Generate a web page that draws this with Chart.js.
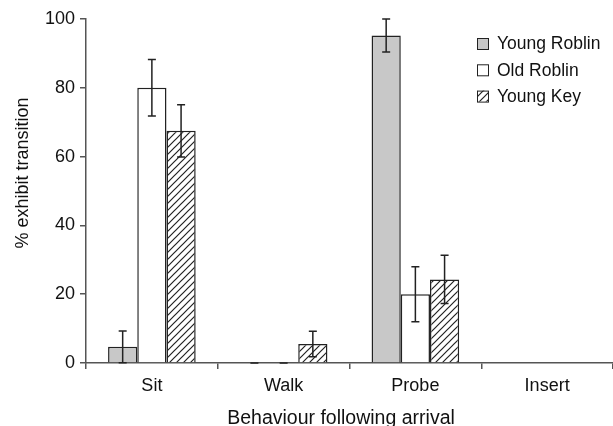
<!DOCTYPE html>
<html>
<head>
<meta charset="utf-8">
<script src="https://cdn.jsdelivr.net/npm/chart.js@4"></script>
<style>
  html, body { margin: 0; padding: 0; background: #fff; }
  #wrap { width: 613px; height: 426px; }
</style>
</head>
<body>
<div id="wrap"><canvas id="myChart" width="613" height="426"></canvas></div>
<script>
'use strict';

// ********** DATA **********

let categories = ['Sit', 'Walk', 'Probe', 'Insert'];
let seriesNames = ['Young Roblin', 'Old Roblin', 'Young Key'];

let youngRoblin = [4.7, 0, 95.2, 0];
let oldRoblin = [80, 0, 20, 0];
let youngKey = [67.5, 5.5, 24.3, 0];

// error (+/-) for each bar, null = no bar drawn
let youngRoblinErr = [4.6, 0, 4.8, null];
let oldRoblinErr = [8.2, 0, 8, null];
let youngKeyErr = [7.6, 3.7, 7, null];

let yTicks = [0, 20, 40, 60, 80, 100];

let xTitle = 'Behaviour following arrival';
let yTitle = '% exhibit transition';

// ********** HELPERS **********

const INK = '#222222';
const FONT = "'Liberation Sans', Arial, sans-serif";

// diagonal hatch for Young Key
function makeHatch() {
  let c = document.createElement('canvas');
  c.width = 7;
  c.height = 7;
  let g = c.getContext('2d');
  g.fillStyle = '#ffffff';
  g.fillRect(0, 0, 7, 7);
  g.strokeStyle = INK;
  g.lineWidth = 1.2;
  g.beginPath();
  g.moveTo(-1, 8); g.lineTo(8, -1);
  g.moveTo(-1, 1); g.lineTo(1, -1);
  g.moveTo(6, 8); g.lineTo(8, 6);
  g.stroke();
  return g.createPattern(c, 'repeat');
}

let hatch = makeHatch();
let fills = ['#c8c8c8', '#ffffff', hatch];
let errs = [youngRoblinErr, oldRoblinErr, youngKeyErr];

// error bars drawn over the bars
const errorBars = {
  id: 'errorBars',
  afterDatasetsDraw(chart) {
    let ctx = chart.ctx;
    let y = chart.scales.y;
    ctx.save();
    ctx.strokeStyle = INK;
    ctx.lineWidth = 1.5;
    chart.data.datasets.forEach((ds, i) => {
      let meta = chart.getDatasetMeta(i);
      meta.data.forEach((bar, j) => {
        let e = errs[i][j];
        if (e === null) return;
        let v = ds.data[j];
        let top = y.getPixelForValue(v + e);
        let bot = y.getPixelForValue(Math.max(0, v - e));
        ctx.beginPath();
        ctx.moveTo(bar.x, top); ctx.lineTo(bar.x, bot);
        ctx.moveTo(bar.x - 4, top); ctx.lineTo(bar.x + 4, top);
        ctx.moveTo(bar.x - 4, bot); ctx.lineTo(bar.x + 4, bot);
        ctx.stroke();
      });
    });
    ctx.restore();
  }
};

// legend in the top right corner + axis titles
const boxLegend = {
  id: 'boxLegend',
  afterDraw(chart) {
    let ctx = chart.ctx;
    ctx.save();
    ctx.font = '17.5px ' + FONT;
    ctx.textBaseline = 'middle';
    seriesNames.forEach((name, i) => {
      let yy = 43.5 + i * 26.3;
      ctx.fillStyle = fills[i];
      ctx.fillRect(477, yy - 5.5, 11, 11);
      ctx.strokeStyle = INK;
      ctx.lineWidth = 1;
      ctx.strokeRect(477.5, yy - 5, 11, 11);
      ctx.fillStyle = '#111';
      ctx.fillText(name, 497, yy + 1);
    });

    ctx.fillStyle = '#111';
    ctx.textAlign = 'center';
    ctx.font = '19.5px ' + FONT;
    ctx.textBaseline = 'alphabetic';
    ctx.fillText(xTitle, 341, 424);

    ctx.translate(28, 173);
    ctx.rotate(-Math.PI / 2);
    ctx.font = '18px ' + FONT;
    ctx.fillText(yTitle, 0, 0);
    ctx.restore();
  }
};

// ********** CHART **********

let chartData = {
  type: 'bar',
  data: {
    labels: categories,
    datasets: [youngRoblin, oldRoblin, youngKey].map((d, i) => ({
      label: seriesNames[i],
      data: d,
      backgroundColor: fills[i],
      borderColor: INK,
      borderWidth: 1.5,
      categoryPercentage: 0.665,
      barPercentage: 1
    }))
  },
  options: {
    responsive: false,
    animation: false,
    layout: { padding: { top: 19, right: 0, left: 0, bottom: 0 } },
    plugins: { legend: { display: false }, tooltip: { enabled: false } },
    scales: {
      x: {
        offset: true,
        afterFit(s) { s.height = 63; },
        grid: { offset: true, drawOnChartArea: false, drawTicks: true, tickLength: 6, color: '#555', lineWidth: 1.5 },
        border: { color: '#555', width: 1.5 },
        ticks: { color: '#111', font: { size: 18, family: FONT }, padding: 6 }
      },
      y: {
        min: 0,
        max: 100,
        afterBuildTicks(s) { s.ticks = yTicks.map(v => ({ value: v })); },
        afterFit(s) { s.width = 86; },
        grid: { drawOnChartArea: false, drawTicks: true, tickLength: 6, color: '#555', lineWidth: 1.5 },
        border: { color: '#555', width: 1.5 },
        ticks: { color: '#111', font: { size: 18, family: FONT }, padding: 5 }
      }
    }
  },
  plugins: [errorBars, boxLegend]
};

new Chart(document.querySelector('#myChart'), chartData);
</script>
</body>
</html>
